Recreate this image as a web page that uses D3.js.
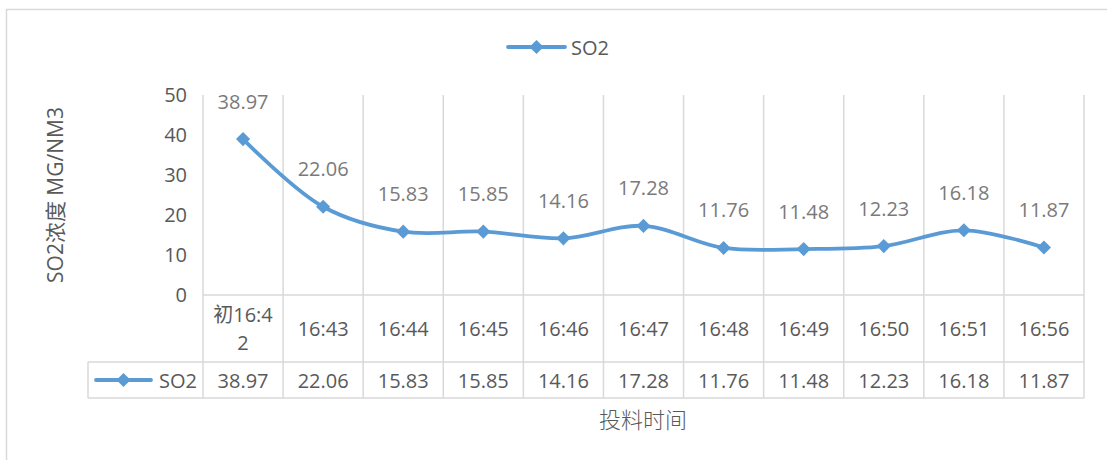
<!DOCTYPE html>
<html><head><meta charset="utf-8">
<script src="https://cdn.jsdelivr.net/npm/d3@7/dist/d3.min.js"></script>
<style>
html,body{margin:0;padding:0;background:#fff;}
svg{display:block;font-family:"Open Sans","Noto Sans",sans-serif;}
</style></head>
<body>
<svg id="c" width="1107" height="460"></svg>
<script>
const categories = ["初16:42","16:43","16:44","16:45","16:46","16:47","16:48","16:49","16:50","16:51","16:56"];
const categoryLines = [["初16:4","2"],["16:43"],["16:44"],["16:45"],["16:46"],["16:47"],["16:48"],["16:49"],["16:50"],["16:51"],["16:56"]];
const so2 = [38.97,22.06,15.83,15.85,14.16,17.28,11.76,11.48,12.23,16.18,11.87];
const yTicks = [0,10,20,30,40,50];
const seriesName = "SO2";
const yTitle = "SO2浓度 MG/NM3";
const xTitle = "投料时间";

const svg = d3.select("#c");
const color = "#5b9bd5", grid = "#d9d9d9", txt = "#595959";
const L = 203, R = 1084, T = 95, B = 295;
const catRowB = 362, serRowB = 398, tableL = 88;
const fs = "20px";

svg.append("rect").attr("x",6.5).attr("y",9.5).attr("width",1110).attr("height",470)
  .attr("fill","none").attr("stroke",grid).attr("stroke-width",1.5);

const x = d3.scaleBand().domain(categories).range([L,R]).padding(0);
const y = d3.scaleLinear().domain([0,50]).range([B,T]);

const edges = categories.map(c=>x(c)).concat([R]);
svg.append("g").selectAll("line").data(edges).join("line")
  .attr("x1",d=>d).attr("x2",d=>d).attr("y1",T).attr("y2",serRowB)
  .attr("stroke",grid).attr("stroke-width",1.5);
[[L,B],[tableL,catRowB],[tableL,serRowB]].forEach(([x0,yy])=>{
  svg.append("line").attr("x1",x0).attr("x2",R).attr("y1",yy).attr("y2",yy)
    .attr("stroke",grid).attr("stroke-width",1.5);
});
svg.append("line").attr("x1",tableL).attr("x2",tableL).attr("y1",catRowB).attr("y2",serRowB)
  .attr("stroke",grid).attr("stroke-width",1.5);

const yAxis = d3.axisLeft(y).tickValues(yTicks).tickSize(0).tickPadding(0);
const gy = svg.append("g").attr("transform",`translate(${187},0)`).call(yAxis);
gy.select(".domain").remove();
gy.selectAll("text").attr("fill",txt).style("font-size",fs).style("font-family","'Open Sans',sans-serif");

const cx = i => x(categories[i])+x.bandwidth()/2;
const line = d3.line().x((d,i)=>cx(i)).y(d=>y(d)).curve(d3.curveCatmullRom.alpha(0.5));
svg.append("path").datum(so2).attr("d",line).attr("fill","none").attr("stroke",color).attr("stroke-width",3.8)
  .attr("stroke-linejoin","round");
svg.append("g").selectAll("path").data(so2).join("path")
  .attr("d",d3.symbol().type(d3.symbolSquare).size(100))
  .attr("transform",(d,i)=>`translate(${cx(i)},${y(d)}) rotate(45)`)
  .attr("fill",color);
svg.append("g").selectAll("text").data(so2).join("text")
  .attr("x",(d,i)=>cx(i)).attr("y",d=>y(d)-38)
  .attr("text-anchor","middle").attr("dominant-baseline","central")
  .attr("fill","#7a7a7a").style("font-size",fs).text(d=>d.toFixed(2));

const cg = svg.append("g").selectAll("text").data(categoryLines).join("text")
  .attr("text-anchor","middle").attr("fill",txt).style("font-size",fs)
  .attr("font-family","'Open Sans','Noto Sans CJK SC',sans-serif");
cg.each(function(lines,i){
  const cy = (B+catRowB)/2;
  const n = lines.length, lh = 28;
  d3.select(this).selectAll("tspan").data(lines).join("tspan")
    .attr("x",cx(i)).attr("y",(d,j)=>cy+(j-(n-1)/2)*lh).attr("dominant-baseline","central").text(d=>d);
});

const sy = (catRowB+serRowB)/2;
svg.append("g").selectAll("text").data(so2).join("text")
  .attr("x",(d,i)=>cx(i)).attr("y",sy)
  .attr("text-anchor","middle").attr("dominant-baseline","central")
  .attr("fill",txt).style("font-size",fs).text(d=>d.toFixed(2));

function legendKey(g,x0,x1,cyy){
  g.append("line").attr("x1",x0).attr("x2",x1).attr("y1",cyy).attr("y2",cyy)
   .attr("stroke",color).attr("stroke-width",3.8).attr("stroke-linecap","round");
  g.append("path").attr("d",d3.symbol().type(d3.symbolSquare).size(100)())
   .attr("transform",`translate(${(x0+x1)/2},${cyy}) rotate(45)`).attr("fill",color);
}
legendKey(svg,96,151,sy);
svg.append("text").attr("x",159).attr("y",sy).attr("dominant-baseline","central")
  .attr("fill",txt).style("font-size",fs).text(seriesName);

legendKey(svg,508,565,47);
svg.append("text").attr("x",571).attr("y",47).attr("dominant-baseline","central")
  .attr("fill",txt).style("font-size",fs).text(seriesName);

svg.append("text").attr("transform","translate(55,195) rotate(-90)").attr("text-anchor","middle")
  .attr("dominant-baseline","central").attr("fill",txt).style("font-size","21px")
  .attr("font-family","'Open Sans','Noto Sans CJK SC',sans-serif").text(yTitle);
svg.append("text").attr("x",643).attr("y",418).attr("text-anchor","middle")
  .attr("dominant-baseline","central").attr("fill",txt).style("font-size","22px").style("font-weight","300")
  .attr("font-family","'Noto Sans CJK SC',sans-serif").text(xTitle);
</script>
</body></html>
